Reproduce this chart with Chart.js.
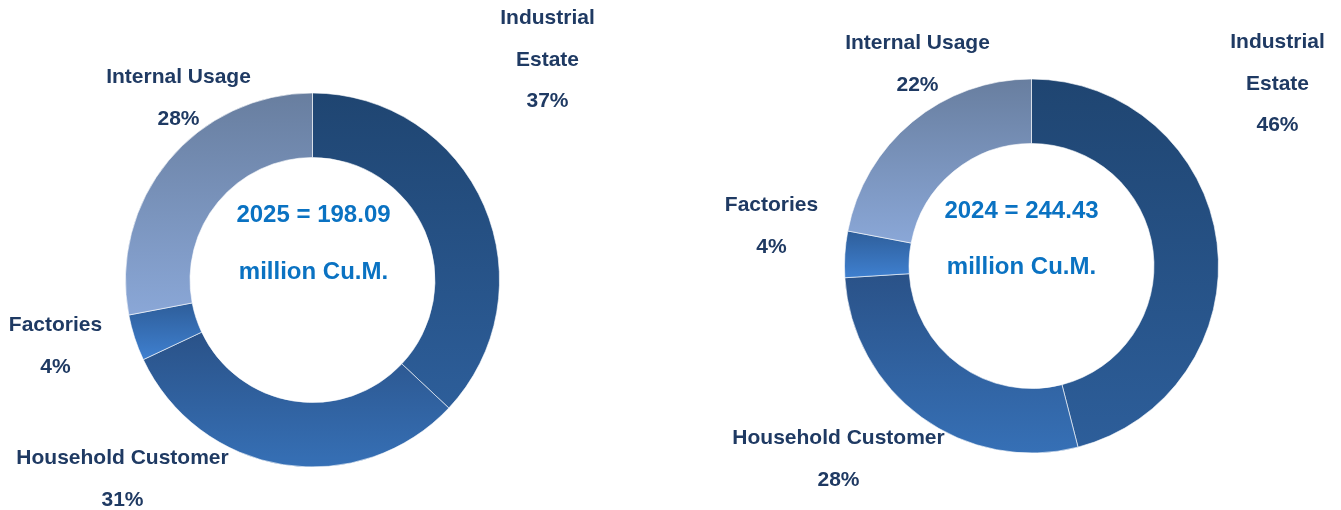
<!DOCTYPE html>
<html>
<head>
<meta charset="utf-8">
<script src="https://cdn.jsdelivr.net/npm/chart.js@4"></script>
<style>
  html, body { margin: 0; padding: 0; background: #fff; }
  #wrap { position: relative; width: 1341px; height: 510px; }
  .box { position: absolute; top: 0; height: 510px; }
</style>
</head>
<body>
<div id="wrap">
  <div class="box" style="left:0;width:660px"><canvas id="chart2025"></canvas></div>
  <div class="box" style="left:660px;width:681px"><canvas id="chart2024"></canvas></div>
</div>
<script>
// data
var categories = ["Industrial Estate", "Household Customer", "Factories", "Internal Usage"];
var share2025 = [37, 31, 4, 28];
var share2024 = [46, 28, 4, 22];
var totals = { 2025: 198.09, 2024: 244.43 };

// top / bottom colours of each segment gradient
var topColors = ['#1f4571', '#2a5288', '#2e5e9a', '#687e9f'];
var bottomColors = ['#2d5e9a', '#3670b6', '#3f80d0', '#8aa7d7'];

var CUT = 0.655;

function segGradient(ctx) {
  var chart = ctx.chart;
  var area = chart.chartArea;
  var i = ctx.dataIndex;
  if (!area) return topColors[i];
  var vals = chart.data.datasets[ctx.datasetIndex].data;
  var total = vals.reduce(function (a, b) { return a + b; }, 0);
  var before = 0;
  for (var k = 0; k < i; k++) before += vals[k];
  var a0 = before / total * Math.PI * 2 - Math.PI / 2;
  var a1 = (before + vals[i]) / total * Math.PI * 2 - Math.PI / 2;
  var cy = (area.top + area.bottom) / 2;
  var R = Math.min(area.width, area.height) / 2;
  var minY = Infinity, maxY = -Infinity;
  for (var s = 0; s <= 60; s++) {
    var a = a0 + (a1 - a0) * s / 60;
    [R, R * CUT].forEach(function (rad) {
      var y = cy + rad * Math.sin(a);
      if (y < minY) minY = y;
      if (y > maxY) maxY = y;
    });
  }
  var g = chart.ctx.createLinearGradient(0, minY, 0, maxY);
  g.addColorStop(0, topColors[i]);
  g.addColorStop(1, bottomColors[i]);
  return g;
}

var labelPlugin = {
  id: 'labelPlugin',
  afterDraw: function (chart, args, opts) {
    var arc = chart.getDatasetMeta(0).data[0];
    var cx = arc.x, cy = arc.y;
    var ctx = chart.ctx;
    var vals = chart.data.datasets[0].data;
    ctx.save();
    ctx.textAlign = 'center';
    ctx.textBaseline = 'middle';
    ctx.fillStyle = '#1f3a63';
    ctx.font = 'bold 21px "Liberation Sans", Arial, sans-serif';
    chart.data.labels.forEach(function (name, i) {
      var lines = opts.split[i] ? name.split(' ') : [name];
      lines.push(vals[i] + '%');
      var p = opts.pos[i];
      var gap = 41.5;
      var y0 = cy + p[1] - gap * (lines.length - 1) / 2;
      lines.forEach(function (t, j) {
        ctx.fillText(t, cx + p[0], y0 + gap * j);
      });
    });
    // centre text
    ctx.fillStyle = '#0a72c2';
    ctx.font = 'bold 24px "Liberation Sans", Arial, sans-serif';
    ctx.fillText(opts.year + ' = ' + totals[opts.year].toFixed(2), cx + opts.center[0], cy + opts.center[1]);
    ctx.fillText('million Cu.M.', cx + opts.center[0], cy + opts.center[2]);
    ctx.restore();
  }
};

function makeChart(id, values, year, padding, labelOpts) {
  return new Chart(document.getElementById(id).getContext('2d'), {
    type: 'doughnut',
    data: {
      labels: categories,
      datasets: [{
        data: values,
        backgroundColor: segGradient,
        borderColor: 'rgba(255,255,255,0.6)',
        borderWidth: 1
      }]
    },
    options: {
      responsive: true,
      maintainAspectRatio: false,
      animation: false,
      cutout: (CUT * 100) + '%',
      layout: { padding: padding },
      plugins: {
        legend: { display: false },
        tooltip: { enabled: false },
        labelPlugin: Object.assign({ year: year }, labelOpts)
      }
    },
    plugins: [labelPlugin]
  });
}

makeChart('chart2025', share2025, 2025,
  { left: 125, top: 92, right: 160, bottom: 42 },
  {
    split: [true, false, false, false],
    pos: [[235, -220], [-190, 199], [-257, 66], [-134, -182]],
    center: [1, -65, -8]
  });

makeChart('chart2024', share2024, 2024,
  { left: 184, top: 78, right: 122, bottom: 56 },
  {
    split: [true, false, false, false],
    pos: [[246, -182], [-193, 193], [-260, -40], [-114, -202]],
    center: [-10, -55, 1]
  });
</script>
</body>
</html>
